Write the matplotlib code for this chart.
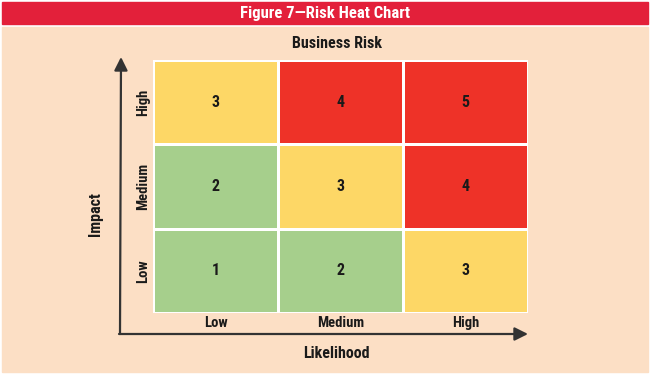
import matplotlib
matplotlib.use("Agg")
import matplotlib.pyplot as plt
import matplotlib.colors as mcolors
from matplotlib import font_manager
from matplotlib.patches import Rectangle, FancyArrowPatch
import numpy as np

# %% data
likelihood = ["Low", "Medium", "High"]
impact = ["Low", "Medium", "High"]
risk = [[1, 2, 3],   # impact Low
        [2, 3, 4],   # impact Medium
        [3, 4, 5]]   # impact High
level_colors = {1: "#a6cf8c", 2: "#a6cf8c", 3: "#fdd766", 4: "#ee3228", 5: "#ee3228"}

# %% font: a condensed bold face if one is around
names = {f.name for f in font_manager.fontManager.ttflist}
family = "Roboto"
for cand in ("Roboto Condensed", "Barlow Semi Condensed", "Barlow Condensed"):
    if cand in names:
        family = cand
        break
plt.rcParams["font.family"] = [family, "DejaVu Sans"]
plt.rcParams["font.weight"] = "bold"

W, H = 650, 377
fig = plt.figure(figsize=(W / 100, H / 100), dpi=100, facecolor="white")

def fx(x): return x / W
def fy(y): return 1 - y / H

# backgrounds
fig.patches.append(Rectangle((fx(2), fy(372)), fx(646), (372 - 27) / H,
                             transform=fig.transFigure, color="#fcdfc5", zorder=-2))
fig.patches.append(Rectangle((fx(2), fy(24)), fx(646), 22 / H,
                             transform=fig.transFigure, color="#e3203a", zorder=-2))
fig.text(fx(325), fy(13.5), "Figure 7\u2014Risk Heat Chart", color="white",
         fontsize=12, ha="center", va="center", weight="bold")
fig.text(fx(337), fy(43), "Business Risk", color="#1a1a1a",
         fontsize=11.5, ha="center", va="center", weight="bold")

# heat grid
ax = fig.add_axes([fx(153), fy(313), fx(375), (313 - 60) / H], zorder=3)
ax.patch.set_alpha(0)
vals = np.array(risk)
levels = sorted(level_colors)
cmap = mcolors.ListedColormap([level_colors[k] for k in levels])
norm = mcolors.BoundaryNorm(np.arange(levels[0] - 0.5, levels[-1] + 1), cmap.N)
ax.pcolormesh(vals, cmap=cmap, norm=norm, edgecolors="white", linewidth=0.9)
for i in range(len(impact)):
    for j in range(len(likelihood)):
        ax.text(j + 0.5, i + 0.5, str(risk[i][j]), ha="center", va="center",
                fontsize=11.5, weight="bold", color="#1a1a1a")
ax.set_xlim(0, 3)
ax.set_ylim(0, 3)
ax.axis("off")
for j, lab in enumerate(likelihood):
    ax.text(j + 0.5, -0.12, lab, ha="center", va="center", fontsize=10.5,
            weight="bold", color="#1a1a1a")
for i, lab in enumerate(impact):
    ax.text(-0.08, i + 0.5, lab, ha="center", va="center", fontsize=10.5,
            weight="bold", color="#1a1a1a", rotation=90)

# axis arrows
arrow = dict(arrowstyle="-|>,head_length=0.8,head_width=0.4", color="#333333", lw=1.6,
             shrinkA=0, shrinkB=0, transform=fig.transFigure, mutation_scale=10)
fig.add_artist(FancyArrowPatch((fx(120), fy(334)), (fx(121), fy(57)), **arrow))
fig.add_artist(FancyArrowPatch((fx(119), fy(334)), (fx(528), fy(334)), **arrow))
fig.text(fx(95), fy(214), "Impact", rotation=90, ha="center", va="center",
         fontsize=11.5, weight="bold", color="#1a1a1a")
fig.text(fx(336), fy(354), "Likelihood", ha="center", va="center",
         fontsize=11.5, weight="bold", color="#1a1a1a")

fig.savefig("out.png", dpi=100, facecolor="white")
